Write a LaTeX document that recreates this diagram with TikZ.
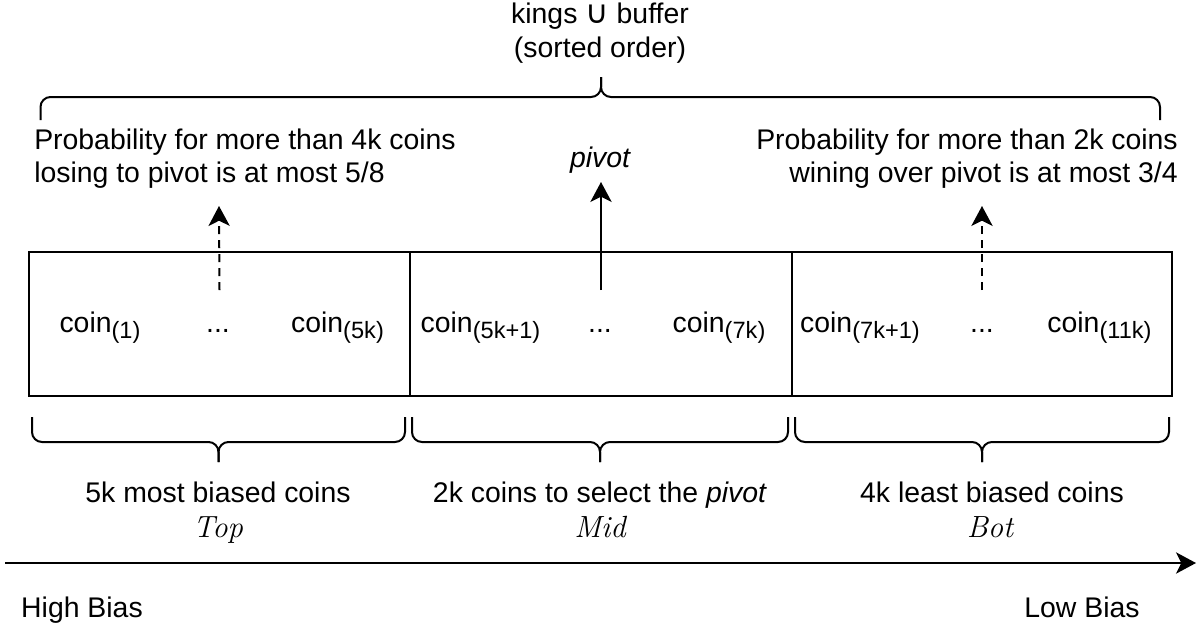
\documentclass[tikz,border=0pt]{standalone}
\usepackage{amsmath}
\usepackage{fontspec}
\setmainfont{Liberation Sans}
\newfontfamily\cupfont{DejaVu Sans}
\newfontfamily\partfont{Latin Modern Roman}
\usepackage{tikz}
\usetikzlibrary{arrows.meta}
\newcommand{\coin}[1]{coin\raisebox{-4.5pt}{\fontsize{17.7}{17.7}\selectfont(#1)}}

\begin{document}
\begin{tikzpicture}[x=0.75pt,y=0.75pt,yscale=-1,
  every node/.style={font=\fontsize{21.3}{24.75}\selectfont,inner sep=0pt},
  part/.style={draw,line width=1.5pt,minimum height=108pt},
  partname/.style={anchor=base,font=\fontsize{23}{24}\partfont\itshape},
  brace/.style={line width=1.5pt,rounded corners=7.5pt},
  tip/.style={line width=1.5pt,-{Stealth[length=15pt,width=16pt,inset=4pt]}},
  dashtip/.style={tip,dash pattern=on 6pt off 4.5pt}]
\useasboundingbox (0,0) rectangle (1204,626);

%Shape: Rectangle
\draw (219.5,324) node (topbox) [part,minimum width=285.75pt] {};
%Shape: Rectangle
\draw (601,324) node (midbox) [part,minimum width=286.5pt] {};
%Shape: Rectangle
\draw (982,324) node (botbox) [part,minimum width=285pt] {};

% Text Node
\draw (600,57) node (kings) [anchor=base,align=center] {kings {\cupfont\fontsize{24}{24}\selectfont ∪} buffer\\[0.75pt](sorted order)};
% Text Node
\draw (34,158.5) node (losing) [anchor=west,align=left] {Probability for more than 4k coins\\losing to pivot is at most 5/8};
% Text Node
\draw (1178,158.5) node (wining) [anchor=east,align=right] {Probability for more than 2k coins\\wining over pivot is at most 3/4};
% Text Node
\draw (600,160) node (pivot) {\itshape pivot};

% Text Node
\draw (100,332) node (c1) [anchor=base] {\coin{1}};
% Text Node
\draw (218,332) node (d1) [anchor=base] {...};
% Text Node
\draw (337.5,332) node (c5k) [anchor=base] {\coin{5k}};
% Text Node
\draw (480.5,332) node (c5k1) [anchor=base] {\coin{5k+1}};
% Text Node
\draw (600,332) node (d2) [anchor=base] {...};
% Text Node
\draw (719,332) node (c7k) [anchor=base] {\coin{7k}};
% Text Node
\draw (860,332) node (c7k1) [anchor=base] {\coin{7k+1}};
% Text Node
\draw (982,332) node (d3) [anchor=base] {...};
% Text Node
\draw (1099.5,332) node (c11k) [anchor=base] {\coin{11k}};

%Straight Lines
\coordinate (losetip) at (219,206);
\coordinate (pivottip) at (601,182);
\coordinate (wintip) at (982,206);
\draw [dashtip] ([yshift=-25.5pt]topbox.center) -- (losetip);
\draw [tip] ([yshift=-25.5pt]midbox.center) -- (pivottip);
\draw [dashtip] ([yshift=-25.5pt]botbox.center) -- (wintip);

%Shape: Brace
\draw [brace] (40.5,120) -- (40.5,97) -- (601,97) -- (601,77);
\draw [brace] (1160,120) -- (1160,97) -- (601,97) -- (601,77);
%Shape: Brace
\draw [brace] (32,417) -- (32,442) -- (218.5,442) -- (218.5,462);
\draw [brace] (405,417) -- (405,442) -- (218.5,442) -- (218.5,462);
%Shape: Brace
\draw [brace] (412,417) -- (412,442) -- (600,442) -- (600,462);
\draw [brace] (788,417) -- (788,442) -- (600,442) -- (600,462);
%Shape: Brace
\draw [brace] (795,417) -- (795,442) -- (982,442) -- (982,462);
\draw [brace] (1169,417) -- (1169,442) -- (982,442) -- (982,462);

% Text Node
\draw (218,502) node (mostbiased) [anchor=base] {5k most biased coins};
% Text Node
\draw (218,537) node (topname) [partname] {Top};
% Text Node
\draw (600,502) node (select) [anchor=base] {2k coins to select the \textit{pivot}};
% Text Node
\draw (600,537) node (midname) [partname] {Mid};
% Text Node
\draw (992,502) node (leastbiased) [anchor=base] {4k least biased coins};
% Text Node
\draw (990,537) node (botname) [partname] {Bot};

%Straight Lines
\coordinate (axisstart) at (5,563);
\coordinate (axisend) at (1196,563);
\draw [tip] (axisstart) -- (axisend);

% Text Node
\draw (82,617) node (high) [anchor=base] {High Bias};
% Text Node
\draw (1082,617) node (low) [anchor=base] {Low Bias};
\end{tikzpicture}
\end{document}
